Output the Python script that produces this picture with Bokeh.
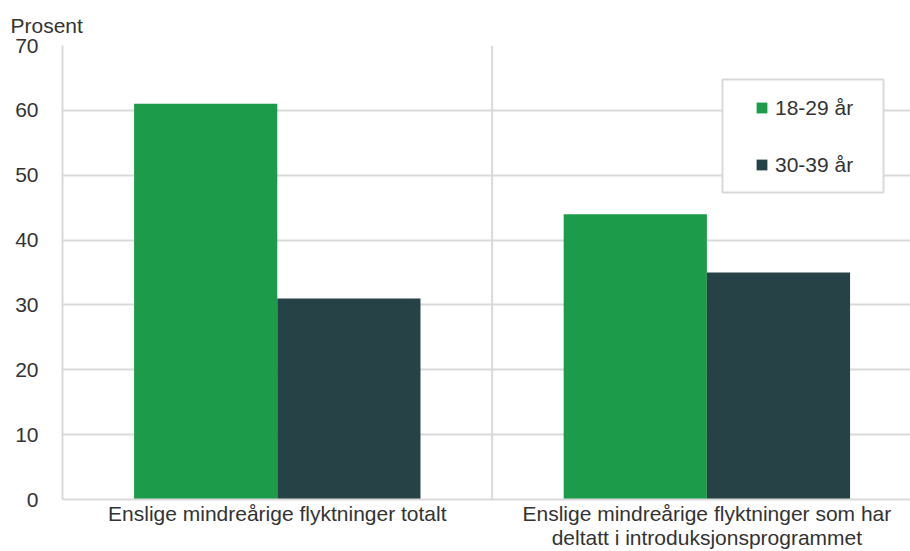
from bokeh.plotting import figure
from bokeh.models import (Range1d, FixedTicker, Span, Legend, LegendItem, Title,
                          ColumnDataSource, BoxAnnotation)
from bokeh.embed import file_html
from bokeh.resources import INLINE

# ---- data ----
categories = ["Enslige mindreårige flyktninger totalt",
              "Enslige mindreårige flyktninger som har\ndeltatt i introduksjonsprogrammet"]
series_names = ["18-29 år", "30-39 år"]
values_18_29 = [61, 44]
values_30_39 = [31, 35]
y_ticks = [0, 10, 20, 30, 40, 50, 60, 70]

colors = ["#1c9b4a", "#274247"]
grid_color = "#d9d9d9"
text_color = "#333333"
FONT = "Liberation Sans"
FS = "21px"

idx = list(range(len(categories)))
centers = [i + 0.5 for i in idx]
bw = 1.0 / 3.0

p = figure(width=910, height=551, output_backend="svg", toolbar_location=None,
           x_range=Range1d(0, 1.974), y_range=Range1d(0, 70),
           min_border_left=62, min_border_right=0, min_border_top=45,
           min_border_bottom=0)
p.outline_line_color = None
p.background_fill_color = "white"
p.border_fill_color = "white"

src1 = ColumnDataSource(dict(x=[c - bw / 2 for c in centers], top=values_18_29))
src2 = ColumnDataSource(dict(x=[c + bw / 2 for c in centers], top=values_30_39))
p.vbar(x="x", top="top", bottom=0, width=bw, source=src1, fill_color=colors[0],
       line_color=None)
p.vbar(x="x", top="top", bottom=0, width=bw, source=src2, fill_color=colors[1],
       line_color=None)

# category divider
p.add_layout(Span(location=1, dimension="height", line_color=grid_color,
                  line_width=2, level="underlay"))

# grids
p.xgrid.visible = False
p.ygrid.grid_line_color = grid_color
p.ygrid.grid_line_width = 2

# y axis
p.yaxis.ticker = FixedTicker(ticks=y_ticks)
p.yaxis.axis_line_color = grid_color
p.yaxis.axis_line_width = 2
p.yaxis.major_tick_line_color = None
p.yaxis.minor_tick_line_color = None
p.yaxis.major_label_text_font = FONT
p.yaxis.major_label_text_font_size = FS
p.yaxis.major_label_text_color = text_color
p.yaxis.major_label_standoff = 18

# x axis
p.xaxis.ticker = FixedTicker(ticks=centers)
p.xaxis.major_label_overrides = {c: lab for c, lab in zip(centers, categories)}
p.xaxis.axis_line_color = grid_color
p.xaxis.axis_line_width = 2
p.xaxis.major_tick_line_color = None
p.xaxis.minor_tick_line_color = None
p.xaxis.major_tick_out = 0
p.xaxis.major_label_text_font = FONT
p.xaxis.major_label_text_font_size = FS
p.xaxis.major_label_text_color = text_color
p.xaxis.major_label_text_line_height = 1.05
p.xaxis.major_label_standoff = 2

# "Prosent" label
p.add_layout(Title(text="Prosent", align="left", offset=-52, standoff=17,
                   text_font=FONT, text_font_size=FS,
                   text_font_style="normal", text_color=text_color), "above")

# legend frame
p.add_layout(BoxAnnotation(left=660, right=821, bottom=307, top=420,
                           left_units="screen", right_units="screen",
                           top_units="screen", bottom_units="screen",
                           fill_color="white", fill_alpha=1,
                           line_color=grid_color, line_width=2, line_alpha=1))

k1 = p.scatter(x="x", y="top", source=src1, marker="square",
               fill_color=colors[0], line_color=None, visible=False)
k2 = p.scatter(x="x", y="top", source=src2, marker="square",
               fill_color=colors[1], line_color=None, visible=False)
legend = Legend(items=[LegendItem(label=series_names[0], renderers=[k1]),
                       LegendItem(label=series_names[1], renderers=[k2])],
                location=(686, 321), orientation="vertical",
                padding=0, spacing=30, margin=0,
                glyph_width=27, glyph_height=27, label_height=27,
                label_width=60, label_standoff=0,
                label_text_font=FONT, label_text_font_size=FS,
                label_text_color=text_color,
                border_line_color=None, background_fill_alpha=0)
p.add_layout(legend, "center")

open("out.html", "w").write(file_html(p, INLINE))
